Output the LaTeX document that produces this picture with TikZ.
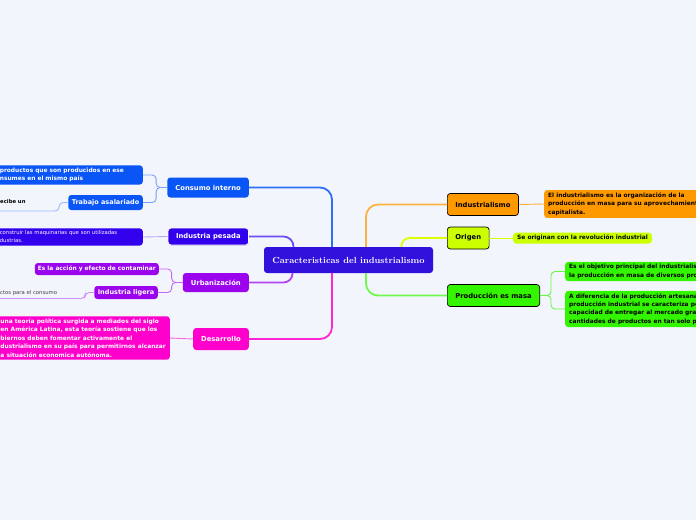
\documentclass[tikz,border=0pt]{standalone}
\usepackage{fontspec}
\usepackage{xcolor}
\usepackage{tikz}
\usetikzlibrary{positioning,shadows}

\newfontfamily\mapsans{DejaVu Sans}

\definecolor{fondo}{HTML}{F2F5FC}
\definecolor{centralc}{HTML}{3311DD}
\definecolor{consumoc}{HTML}{0A55F5}
\definecolor{pesadac}{HTML}{3300EE}
\definecolor{urbanc}{HTML}{9A05EE}
\definecolor{desarc}{HTML}{FF00CC}
\definecolor{industc}{HTML}{FF9900}
\definecolor{origenc}{HTML}{CCFF00}
\definecolor{prodc}{HTML}{33F500}

\begin{document}
\begin{tikzpicture}[
  x=1pt, y=-1pt,
  every node/.style={rounded corners=3pt, font=\mapsans},
  central/.style={fill=centralc, text=white, font=\rmfamily\bfseries\fontsize{8.8}{10}\selectfont,
    minimum width=169pt, minimum height=26pt},
  branchbox/.style={font=\mapsans\bfseries\fontsize{6.8}{8}\selectfont, text=white,
    minimum height=20pt, inner xsep=8pt, anchor=east},
  rightbox/.style={font=\mapsans\bfseries\fontsize{6.8}{8}\selectfont, text=black, draw=black,
    line width=0.7pt, minimum height=22pt, inner xsep=8pt, anchor=west},
  subbox/.style={font=\mapsans\bfseries\fontsize{6.5}{8}\selectfont, text=white,
    inner xsep=3.5pt, inner ysep=2pt, minimum height=13pt, anchor=east},
  descbox/.style={font=\mapsans\bfseries\fontsize{5.9}{8.4}\selectfont, align=left,
    inner xsep=4pt, inner ysep=2.5pt},
  plaintext/.style={font=\mapsans\fontsize{5.3}{7}\selectfont, inner xsep=1pt, anchor=south west},
  mainline/.style={line width=1.8pt, rounded corners=12pt},
  subline/.style={line width=0.9pt, rounded corners=4pt}
]
\useasboundingbox (0,0) rectangle (696,520);
\fill[fondo] (0,0) rectangle (696,520);
\clip (0,0) rectangle (696,520);

% centro
\node[central] (centro) at (348.5,260) {Caracteristicas del industrialismo};

% izquierda
\node[branchbox, fill=consumoc] (consumo) at (249,187.5) {Consumo interno};
\node[branchbox, fill=pesadac, draw=white, line width=0.8pt, minimum height=17pt,
  drop shadow={opacity=0.25, shadow xshift=0.6pt, shadow yshift=-0.8pt}] (pesada) at (249,236.5) {Industria pesada};
\node[branchbox, fill=urbanc, minimum height=19pt] (urban) at (249,282.5) {Urbanización};
\node[branchbox, fill=desarc, minimum height=22pt] (desarrollo) at (249,339) {Desarrollo};

\node[descbox, fill=consumoc, text=white, anchor=east, text width=139pt] (consdesc) at (143,175)
  {productos que son producidos en ese\\nsumes en el mismo país};
\node[subbox, fill=consumoc, minimum height=15pt] (trabajo) at (143,202.5) {Trabajo asalariado};
\node[plaintext, font=\mapsans\bfseries\fontsize{5.3}{7}\selectfont, inner ysep=7pt] (recibe) at (-1,211) {ecibe un};

\node[descbox, fill=pesadac, text=white, anchor=east, text width=139pt,
  font=\mapsans\fontsize{5.3}{8}\selectfont] (pesdesc) at (143,237)
  {construir las maquinarias que son utilizadas\\dustrias.};

\node[descbox, fill=urbanc, text=white, anchor=east, inner xsep=3pt, minimum height=12pt] (contaminar) at (159,269)
  {Es la acción y efecto de contaminar};
\node[subbox, fill=urbanc] (ligera) at (158,292.5) {Industria ligera};
\node[plaintext, text=black!75, inner ysep=3pt] (ligtext) at (-1,298.5) {ctos para el consumo};

\node[descbox, fill=desarc, text=white, anchor=east] (desdesc) at (170,338)
  {una teoría política surgida a mediados del siglo\\
   en América Latina, esta teoría sostiene que los\\
   biernos deben fomentar activamente el\\
   dustrialismo en su país para permitirnos alcanzar\\
   a situación economica autónoma.};

% derecha
\node[rightbox, fill=industc] (industrialismo) at (447,204.5) {Industrialismo};
\node[descbox, fill=industc, anchor=west] (inddesc) at (544,204)
  {El industrialismo es la organización de la\\producción en masa para su aprovechamiento\\capitalista.};
\node[rightbox, fill=origenc] (origen) at (447,238) {Origen};
\node[descbox, fill=origenc, anchor=west] (origdesc) at (513,238) {Se originan con la revolución industrial};
\node[rightbox, fill=prodc] (produccion) at (447,295.5) {Producción es masa};
\node[descbox, fill=prodc, anchor=west] (prod1) at (565,271.5)
  {Es el objetivo principal del industrialismo,\\la producción en masa de diversos productos.};
\node[descbox, fill=prodc, anchor=west] (prod2) at (565,309)
  {A diferencia de la producción artesanal, la\\producción industrial se caracteriza por su\\capacidad de entregar al mercado grandes\\cantidades de productos en tan solo poco tiempo.};

% ramas principales
\draw[mainline, color=consumoc!85] ([xshift=-16.5pt]centro.north) |- (consumo.east);
\draw[mainline, color=pesadac!70, rounded corners=10pt] ([xshift=-55pt]centro.north) |- (pesada.east);
\draw[mainline, color=urbanc!75, rounded corners=9pt] ([xshift=-56pt]centro.south) |- (urban.east);
\draw[mainline, color=desarc!85] ([xshift=-16.5pt]centro.south) |- (desarrollo.east);
\draw[mainline, color=industc!75] ([xshift=17.5pt]centro.north) |- (industrialismo.west);
\draw[mainline, color=origenc!60!yellow, rounded corners=8pt] ([xshift=53pt]centro.north) |- (origen.west);
\draw[mainline, color=prodc!70] ([xshift=17.5pt]centro.south) |- (produccion.west);

% ramas secundarias
\draw[subline, consumoc!55] (consumo.west) -- ++(-11,0) |- (consdesc.east);
\draw[subline, consumoc!55] (consumo.west) -- ++(-11,0) |- (trabajo.east);
\draw[subline, consumoc!40] (trabajo.west) -- ++(-9,0) |- (recibe.south west);
\draw[subline, pesadac!35] (pesada.west) -- (pesdesc.east);
\draw[subline, urbanc!60] (urban.west) -- ++(-11,0) |- (contaminar.east);
\draw[subline, urbanc!60] (urban.west) -- ++(-11,0) |- (ligera.east);
\draw[subline, urbanc!45] (ligera.west) -- ++(-9,0) |- (ligtext.south west);
\draw[subline, desarc!60] (desarrollo.west) -- (desdesc.east);
\draw[subline, industc!80] (industrialismo.east) -- (inddesc.west);
\draw[subline, origenc!80!yellow] (origen.east) -- (origdesc.west);
\draw[subline, prodc!75] (produccion.east) -- ++(11,0) |- (prod1.west);
\draw[subline, prodc!75] (produccion.east) -- ++(11,0) |- (prod2.west);
\end{tikzpicture}
\end{document}
